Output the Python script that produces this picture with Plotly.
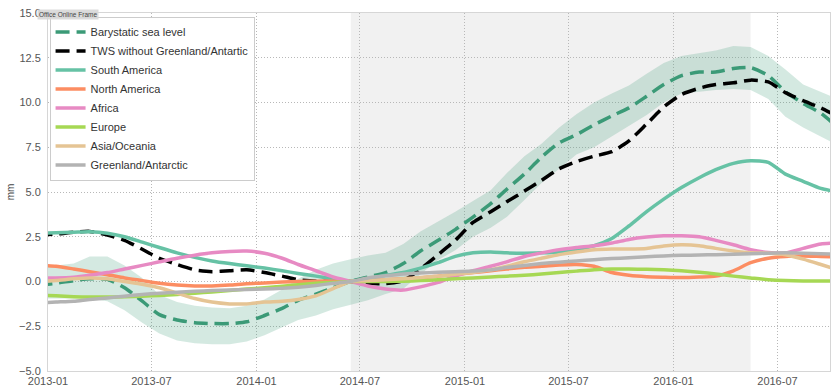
import pandas as pd
import plotly.graph_objects as go

# Monthly (mid-month) sample dates, Dec 2012 .. Oct 2016
dates = pd.date_range("2012-12-01", periods=47, freq="MS") + pd.Timedelta(days=14)

# Barystatic sea level (mm) and its uncertainty envelope
barystatic = [
    -0.2, -0.1, 0.05, 0.15, 0.12, -0.35, -1.1, -1.85, -2.15, -2.3, -2.35, -2.35,
    -2.25, -1.9, -1.5, -1.05, -0.7, -0.35, 0.0, 0.25, 0.5, 1.0, 1.7, 2.3,
    2.9, 3.6, 4.35, 5.15, 6.0, 6.95, 7.75, 8.2, 8.75, 9.25, 9.7, 10.35,
    11.0, 11.5, 11.7, 11.7, 11.9, 11.95, 11.5, 10.6, 9.95, 9.4, 8.6,
]
barystatic_upper = [
    0.9, 0.9, 1.0, 1.4, 1.4, 0.9, 0.2, -0.75, -1.15, -1.35, -1.45, -1.5,
    -1.35, -1.0, -0.45, 0.15, 0.65, 1.0, 1.25, 1.45, 1.6, 2.1, 2.8, 3.35,
    3.9, 4.5, 5.1, 6.05, 7.0, 7.7, 8.6, 9.35, 10.0, 10.5, 10.95, 11.6,
    12.2, 12.6, 12.75, 12.9, 13.15, 13.1, 12.6, 11.85, 11.0, 10.6, 10.2,
]
barystatic_lower = [
    -0.95, -0.95, -0.95, -0.95, -1.1, -1.6, -2.3, -2.9, -3.3, -3.45, -3.5, -3.5,
    -3.35, -3.0, -2.55, -2.15, -1.9, -1.55, -1.3, -1.05, -0.7, -0.4, 0.4, 1.2,
    1.75, 2.5, 3.0, 3.6, 4.55, 5.5, 6.3, 7.1, 7.5, 8.1, 8.7, 9.3,
    10.0, 10.5, 10.6, 10.7, 10.75, 10.7, 10.2, 9.2, 8.6, 8.1, 7.6,
]

# Terrestrial water storage without the ice sheets (mm)
tws_no_ice = [
    2.6, 2.65, 2.75, 2.8, 2.6, 2.3, 1.8, 1.3, 0.95, 0.65, 0.55, 0.6,
    0.65, 0.5, 0.3, 0.1, 0.02, 0.0, 0.0, -0.1, -0.12, 0.05, 0.7, 1.5,
    2.3, 3.3, 3.9, 4.45, 5.05, 5.65, 6.3, 6.7, 7.0, 7.25, 7.85, 8.8,
    9.75, 10.45, 10.8, 11.0, 11.1, 11.25, 11.15, 10.55, 10.1, 9.7, 9.2,
]

# Regional contributions (mm)
south_america = [
    2.7, 2.72, 2.75, 2.78, 2.7, 2.5, 2.2, 1.9, 1.6, 1.35, 1.15, 1.0,
    0.88, 0.75, 0.6, 0.45, 0.3, 0.15, 0.0, 0.15, 0.35, 0.5, 0.75, 1.05,
    1.4, 1.6, 1.65, 1.6, 1.58, 1.6, 1.65, 1.8, 2.0, 2.4, 3.1, 3.9,
    4.6, 5.25, 5.8, 6.25, 6.6, 6.75, 6.65, 6.0, 5.6, 5.2, 5.0,
]
north_america = [
    0.9, 0.85, 0.7, 0.55, 0.38, 0.2, 0.05, -0.1, -0.2, -0.25, -0.25, -0.2,
    -0.12, -0.08, -0.03, 0.0, 0.02, 0.02, 0.0, 0.05, 0.1, 0.15, 0.2, 0.3,
    0.4, 0.5, 0.6, 0.7, 0.8, 0.85, 0.92, 0.95, 0.85, 0.5, 0.35, 0.27,
    0.24, 0.22, 0.25, 0.3, 0.6, 1.05, 1.3, 1.4, 1.42, 1.4, 1.38,
]
africa = [
    0.2, 0.2, 0.24, 0.35, 0.5, 0.7, 0.9, 1.1, 1.3, 1.47, 1.6, 1.68,
    1.7, 1.58, 1.3, 0.95, 0.6, 0.25, 0.0, -0.25, -0.42, -0.48, -0.3, -0.05,
    0.3, 0.6, 0.85, 1.1, 1.4, 1.6, 1.78, 1.9, 2.0, 2.15, 2.35, 2.48,
    2.55, 2.55, 2.5, 2.3, 2.05, 1.78, 1.62, 1.6, 1.85, 2.1, 2.15,
]
europe = [
    -0.75, -0.8, -0.85, -0.87, -0.87, -0.85, -0.82, -0.78, -0.72, -0.65, -0.58, -0.5,
    -0.42, -0.35, -0.27, -0.18, -0.1, -0.05, 0.0, 0.0, 0.0, 0.02, 0.05, 0.1,
    0.15, 0.2, 0.25, 0.3, 0.35, 0.42, 0.5, 0.58, 0.66, 0.7, 0.7, 0.68,
    0.65, 0.6, 0.52, 0.42, 0.3, 0.2, 0.1, 0.05, 0.03, 0.03, 0.03,
]
asia_oceania = [
    0.0, 0.05, 0.15, 0.2, 0.15, 0.0, -0.15, -0.35, -0.65, -0.95, -1.15, -1.25,
    -1.25, -1.15, -1.1, -1.0, -0.8, -0.4, 0.0, 0.05, 0.1, 0.15, 0.22, 0.3,
    0.4, 0.5, 0.65, 0.85, 1.1, 1.3, 1.5, 1.65, 1.78, 1.82, 1.82, 1.85,
    1.98, 2.05, 2.0, 1.85, 1.7, 1.6, 1.58, 1.5, 1.25, 0.95, 0.65,
]
greenland_antarctic = [
    -1.2, -1.15, -1.1, -1.0, -0.92, -0.82, -0.72, -0.65, -0.6, -0.55, -0.5, -0.47,
    -0.44, -0.42, -0.38, -0.32, -0.22, -0.1, 0.0, 0.2, 0.32, 0.42, 0.47, 0.52,
    0.55, 0.58, 0.65, 0.78, 0.9, 1.0, 1.08, 1.15, 1.22, 1.28, 1.33, 1.38,
    1.43, 1.46, 1.48, 1.5, 1.52, 1.55, 1.58, 1.6, 1.58, 1.55, 1.52,
]

# Highlighted period
highlight_period = ["2014-06-15", "2016-05-15"]

regions = [
    ("South America", south_america, "#66c2a5"),
    ("North America", north_america, "#fc8d62"),
    ("Africa", africa, "#e78ac3"),
    ("Europe", europe, "#a6d854"),
    ("Asia/Oceania", asia_oceania, "#e5c494"),
    ("Greenland/Antarctic", greenland_antarctic, "#b3b3b3"),
]

bary_color = "#3b9a77"

fig = go.Figure()

# uncertainty envelope of the barystatic curve
fig.add_trace(go.Scatter(
    x=dates, y=barystatic_upper, mode="lines", line=dict(width=0),
    showlegend=False, hoverinfo="skip",
))
fig.add_trace(go.Scatter(
    x=dates, y=barystatic_lower, mode="lines", line=dict(width=0),
    fill="tonexty", fillcolor="rgba(59,154,119,0.22)",
    showlegend=False, hoverinfo="skip",
))

fig.add_trace(go.Scatter(
    x=dates, y=barystatic, mode="lines", name="Barystatic sea level",
    line=dict(color=bary_color, width=3.5, dash="14px,7px", shape="spline", smoothing=0.6),
))
fig.add_trace(go.Scatter(
    x=dates, y=tws_no_ice, mode="lines", name="TWS without Greenland/Antartic",
    line=dict(color="#000000", width=3.5, dash="14px,7px", shape="spline", smoothing=0.6),
))

for name, values, color in regions:
    fig.add_trace(go.Scatter(
        x=dates, y=values, mode="lines", name=name,
        line=dict(color=color, width=3.5, shape="spline", smoothing=0.6),
    ))

fig.add_shape(
    type="rect", xref="x", yref="paper",
    x0=highlight_period[0], x1=highlight_period[1], y0=0, y1=1,
    fillcolor="rgba(0,0,0,0.055)", line=dict(width=0), layer="below",
)

fig.add_annotation(
    text="Office Online Frame", xref="paper", yref="paper",
    x=-0.014, y=0.997, xanchor="left", yanchor="middle", showarrow=False,
    font=dict(size=6.5, color="#444444", family="Liberation Sans"),
    bgcolor="rgba(215,215,215,0.9)", borderpad=1,
)

grid_style = dict(showgrid=True, gridcolor="#b8b8b8", griddash="1px,2px", gridwidth=1)

fig.update_xaxes(
    range=["2013-01-01", "2016-10-01"], dtick="M6", tick0="2013-01-01",
    tickformat="%Y-%m", showline=True, linecolor="#d6d6d6", linewidth=1, mirror=True,
    ticks="", tickfont=dict(size=11, color="#555555"), zeroline=False,
    **grid_style,
)
fig.update_yaxes(
    range=[-5, 15], dtick=2.5, tick0=0, tickformat=".1f",
    showline=True, linecolor="#d6d6d6", linewidth=1, mirror=True,
    ticks="", tickfont=dict(size=11, color="#555555"), zeroline=False,
    ticklabelstandoff=4,
    title=dict(text="mm", font=dict(size=10, color="#444444"), standoff=2),
    **grid_style,
)

fig.update_layout(
    width=833, height=389,
    margin=dict(l=48, r=2, t=13, b=12),
    paper_bgcolor="white", plot_bgcolor="white",
    font=dict(family="Liberation Sans", color="#333333"),
    legend=dict(
        x=0.002, y=0.99, xanchor="left", yanchor="top",
        bgcolor="white", bordercolor="#cccccc", borderwidth=1,
        font=dict(size=11, color="#333333"), itemwidth=30,
        traceorder="normal", tracegroupgap=0,
    ),
    showlegend=True,
)

fig.write_html("out.html")
